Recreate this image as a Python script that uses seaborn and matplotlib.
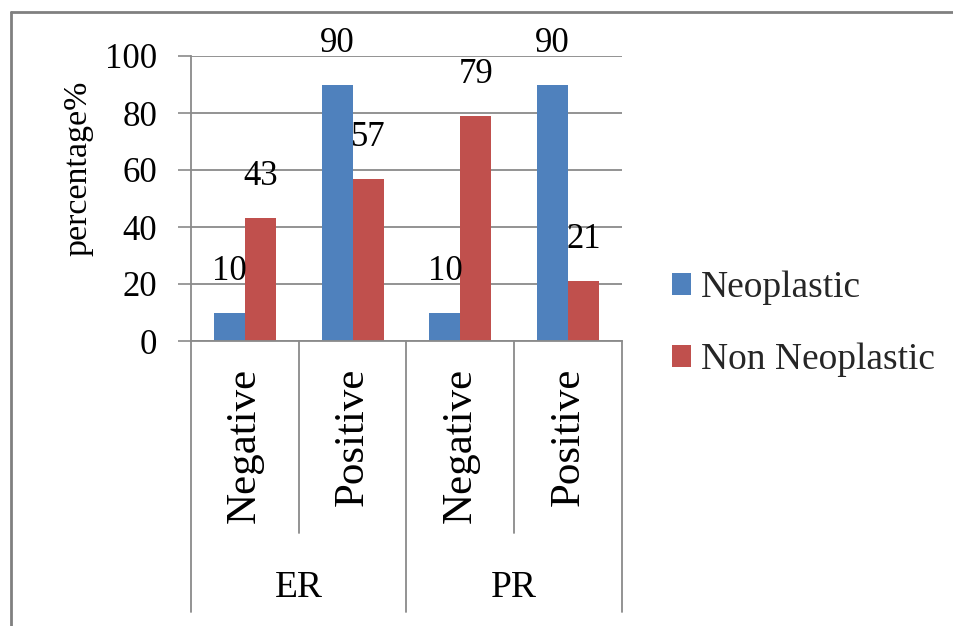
import matplotlib
matplotlib.use("Agg")
import matplotlib.pyplot as plt
from matplotlib.lines import Line2D
import seaborn as sns
import pandas as pd

# Hormone receptor status by tissue type
receptors = ["ER", "ER", "PR", "PR"]
status = ["Negative", "Positive", "Negative", "Positive"]
neoplastic = [10, 90, 10, 90]
non_neoplastic = [43, 57, 79, 21]
series = ["Neoplastic", "Non Neoplastic"]
colors = ["#4F81BD", "#C0504D"]
y_ticks = [0, 20, 40, 60, 80, 100]

keys = [f"{r} {s}" for r, s in zip(receptors, status)]
df = pd.DataFrame({
    "key": keys * 2,
    "series": [series[0]] * len(keys) + [series[1]] * len(keys),
    "value": neoplastic + non_neoplastic,
})

sns.set_theme(style="white")
plt.rcParams["font.family"] = ["Liberation Serif", "DejaVu Serif"]
gray = "#8a8a8a"

W, H = 954, 626
fig = plt.figure(figsize=(W / 100, H / 100), dpi=100)
ax = fig.add_axes([191 / W, 1 - 341 / H, (622 - 191) / W, (341 - 56) / H])

sns.barplot(data=df, x="key", y="value", hue="series", order=keys,
            hue_order=series, palette=colors, saturation=1, width=0.575,
            gap=0, linewidth=0, errorbar=None, ax=ax)

ax.set_xlim(-0.5, len(keys) - 0.5)
ax.set_ylim(0, 100)
ax.set_yticks(y_ticks)
ax.set_yticklabels([str(t) for t in y_ticks], fontsize=25, color="black")
ax.yaxis.grid(True, color=gray, linewidth=1.3)
ax.set_axisbelow(True)
ax.tick_params(axis="y", length=9.4, width=1.2, color=gray, pad=15, left=True)

ax.set_xticks(range(len(keys)))
ax.set_xticklabels(status, rotation=90, va="top", ha="center", fontsize=31,
                   color="black")
ax.tick_params(axis="x", length=0, pad=19)
ax.set_xlabel("")

ax.set_ylabel("percentage%", fontsize=24.5, color="black")
ax.yaxis.set_label_coords(-0.227, 0.605)

for side in ("top", "right"):
    ax.spines[side].set_visible(False)
for side in ("left", "bottom"):
    ax.spines[side].set_color(gray)
    ax.spines[side].set_linewidth(1.3)

# value labels above each bar
for cont in ax.containers:
    ax.bar_label(cont, fmt="%g", padding=18, fontsize=25, color="black")

# multi-level category axis: separators and group names
xt = ax.get_xaxis_transform()
for i in range(len(keys) + 1):
    x = i - 0.5
    long_line = i % 2 == 0
    y_end = -(612 - 341) / 285 if long_line else -(533 - 341) / 285
    ax.plot([x, x], [0, y_end], transform=xt, clip_on=False,
            color=gray, linewidth=1.3)
for g in ["ER", "PR"]:
    idx = [i for i, r in enumerate(receptors) if r == g]
    cx = sum(idx) / len(idx)
    ax.text(cx, -(588 - 341) / 285, g, transform=xt, ha="center",
            va="center", fontsize=27, color="black")

handles, labels = ax.get_legend_handles_labels()
ax.legend(handles, labels, loc="center left",
          bbox_to_anchor=(672 / W, 1 - 324 / H), bbox_transform=fig.transFigure,
          frameon=False, fontsize=27, handlelength=0.5, handleheight=0.5,
          handletextpad=0.27, labelspacing=1.0, borderpad=0, borderaxespad=0)

# outer chart border
fig.add_artist(Line2D([11 / W, 11 / W], [0, 1 - 12 / H],
                      transform=fig.transFigure, color="#808080", linewidth=2))
fig.add_artist(Line2D([11 / W, 1], [1 - 12 / H, 1 - 12 / H],
                      transform=fig.transFigure, color="#808080", linewidth=2))

fig.savefig("out.png", dpi=100)
